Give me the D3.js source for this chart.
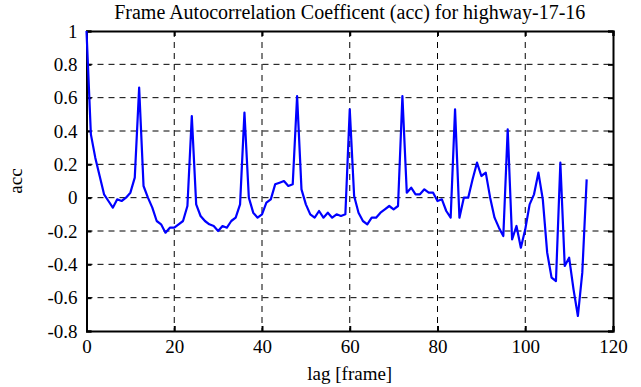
<!DOCTYPE html>
<html>
<head>
<meta charset="utf-8">
<script src="https://cdn.jsdelivr.net/npm/d3@7"></script>
<style>
  body { margin: 0; background: #fff; }
  svg text { font-family: "Liberation Serif", "DejaVu Serif", serif; fill: #000; }
</style>
</head>
<body>
<div id="chart"></div>
<script>
const width = 641, height = 387;
const margin = {top: 31, right: 28, bottom: 56, left: 86.5};

// lag in frames 0..114
const lags = d3.range(0, 115);
const acc = [
  1.00, 0.38, 0.24, 0.13, 0.02, -0.02, -0.06, -0.01, -0.02, 0.00,
  0.03, 0.12, 0.66, 0.07, 0.00, -0.06, -0.14, -0.16, -0.21, -0.18,
  -0.18, -0.16, -0.14, -0.05, 0.49, -0.04, -0.11, -0.14, -0.16, -0.17,
  -0.20, -0.17, -0.18, -0.14, -0.12, -0.04, 0.51, 0.00, -0.09, -0.12,
  -0.10, -0.03, -0.01, 0.08, 0.09, 0.10, 0.07, 0.08, 0.61, 0.05,
  -0.04, -0.10, -0.12, -0.08, -0.12, -0.09, -0.12, -0.10, -0.11, -0.10,
  0.53, 0.01, -0.09, -0.14, -0.16, -0.12, -0.12, -0.09, -0.07, -0.05,
  -0.07, -0.05, 0.61, 0.03, 0.06, 0.02, 0.02, 0.05, 0.03, 0.03,
  -0.02, -0.01, -0.08, -0.12, 0.53, -0.12, 0.00, 0.00, 0.11, 0.21,
  0.13, 0.15, 0.00, -0.12, -0.18, -0.23, 0.41, -0.25, -0.17, -0.30,
  -0.19, -0.04, 0.02, 0.15, -0.01, -0.33, -0.48, -0.50, 0.21, -0.41,
  -0.36, -0.55, -0.71, -0.45, 0.11
];
const xTicks = [0, 20, 40, 60, 80, 100, 120];
const yTicks = [-0.8, -0.6, -0.4, -0.2, 0, 0.2, 0.4, 0.6, 0.8, 1];

const title = "Frame Autocorrelation Coefficent (acc) for highway-17-16";
const xLabel = "lag [frame]";
const yLabel = "acc";

const serif = "Liberation Serif";

const svg = d3.select("#chart").append("svg")
  .attr("width", width)
  .attr("height", height);

const x = d3.scaleLinear().domain([0, 120]).range([margin.left, width - margin.right]);
const y = d3.scaleLinear().domain([-0.8, 1]).range([height - margin.bottom, margin.top]);

// dashed grid
svg.append("g")
  .selectAll("line")
  .data(xTicks.slice(1, -1))
  .join("line")
  .attr("x1", d => x(d)).attr("x2", d => x(d))
  .attr("y1", y(1)).attr("y2", y(-0.8))
  .attr("stroke", "#000").attr("stroke-width", 1).attr("stroke-dasharray", "6,5");

svg.append("g")
  .selectAll("line")
  .data(yTicks.slice(1, -1))
  .join("line")
  .attr("x1", x(0)).attr("x2", x(120))
  .attr("y1", d => y(d)).attr("y2", d => y(d))
  .attr("stroke", "#000").attr("stroke-width", 1).attr("stroke-dasharray", "6,5");

// axes with inward ticks on all four sides
const fmt = d => String(+d.toFixed(1));
const axBottom = svg.append("g")
  .attr("transform", `translate(0,${y(-0.8)})`)
  .call(d3.axisBottom(x).tickValues(xTicks).tickSize(-5).tickPadding(9).tickFormat(d3.format("d")));
const axLeft = svg.append("g")
  .attr("transform", `translate(${x(0)},0)`)
  .call(d3.axisLeft(y).tickValues(yTicks).tickSize(-5).tickPadding(9).tickFormat(fmt));
const axTop = svg.append("g")
  .attr("transform", `translate(0,${y(1)})`)
  .call(d3.axisTop(x).tickValues(xTicks).tickSize(-5).tickFormat(""));
const axRight = svg.append("g")
  .attr("transform", `translate(${x(120)},0)`)
  .call(d3.axisRight(y).tickValues(yTicks).tickSize(-5).tickFormat(""));

[axBottom, axLeft, axTop, axRight].forEach(g => {
  g.attr("font-family", serif).attr("font-size", 19);
  g.select(".domain").attr("stroke", "#000").attr("stroke-width", 2);
  g.selectAll(".tick line").attr("stroke", "#000").attr("stroke-width", 2);
  g.selectAll(".tick text")
    .attr("font-family", serif)
    .attr("font-size", 19)
    .style("font-family", serif)
    .style("font-size", "19px");
});

// data line
const line = d3.line()
  .x((d, i) => x(lags[i]))
  .y(d => y(d));

svg.append("path")
  .datum(acc)
  .attr("fill", "none")
  .attr("stroke", "#0000ff")
  .attr("stroke-width", 2.2)
  .attr("stroke-linejoin", "round")
  .attr("d", line);

// labels
svg.append("text")
  .attr("x", (x(0) + x(120)) / 2)
  .attr("y", 19)
  .attr("text-anchor", "middle")
  .style("font-size", "20px")
  .text(title);

svg.append("text")
  .attr("x", (x(0) + x(120)) / 2)
  .attr("y", 380)
  .attr("text-anchor", "middle")
  .style("font-size", "19px")
  .text(xLabel);

svg.append("text")
  .attr("transform", `translate(22,${(y(1) + y(-0.8)) / 2}) rotate(-90)`)
  .attr("text-anchor", "middle")
  .style("font-size", "19px")
  .text(yLabel);
</script>
</body>
</html>
